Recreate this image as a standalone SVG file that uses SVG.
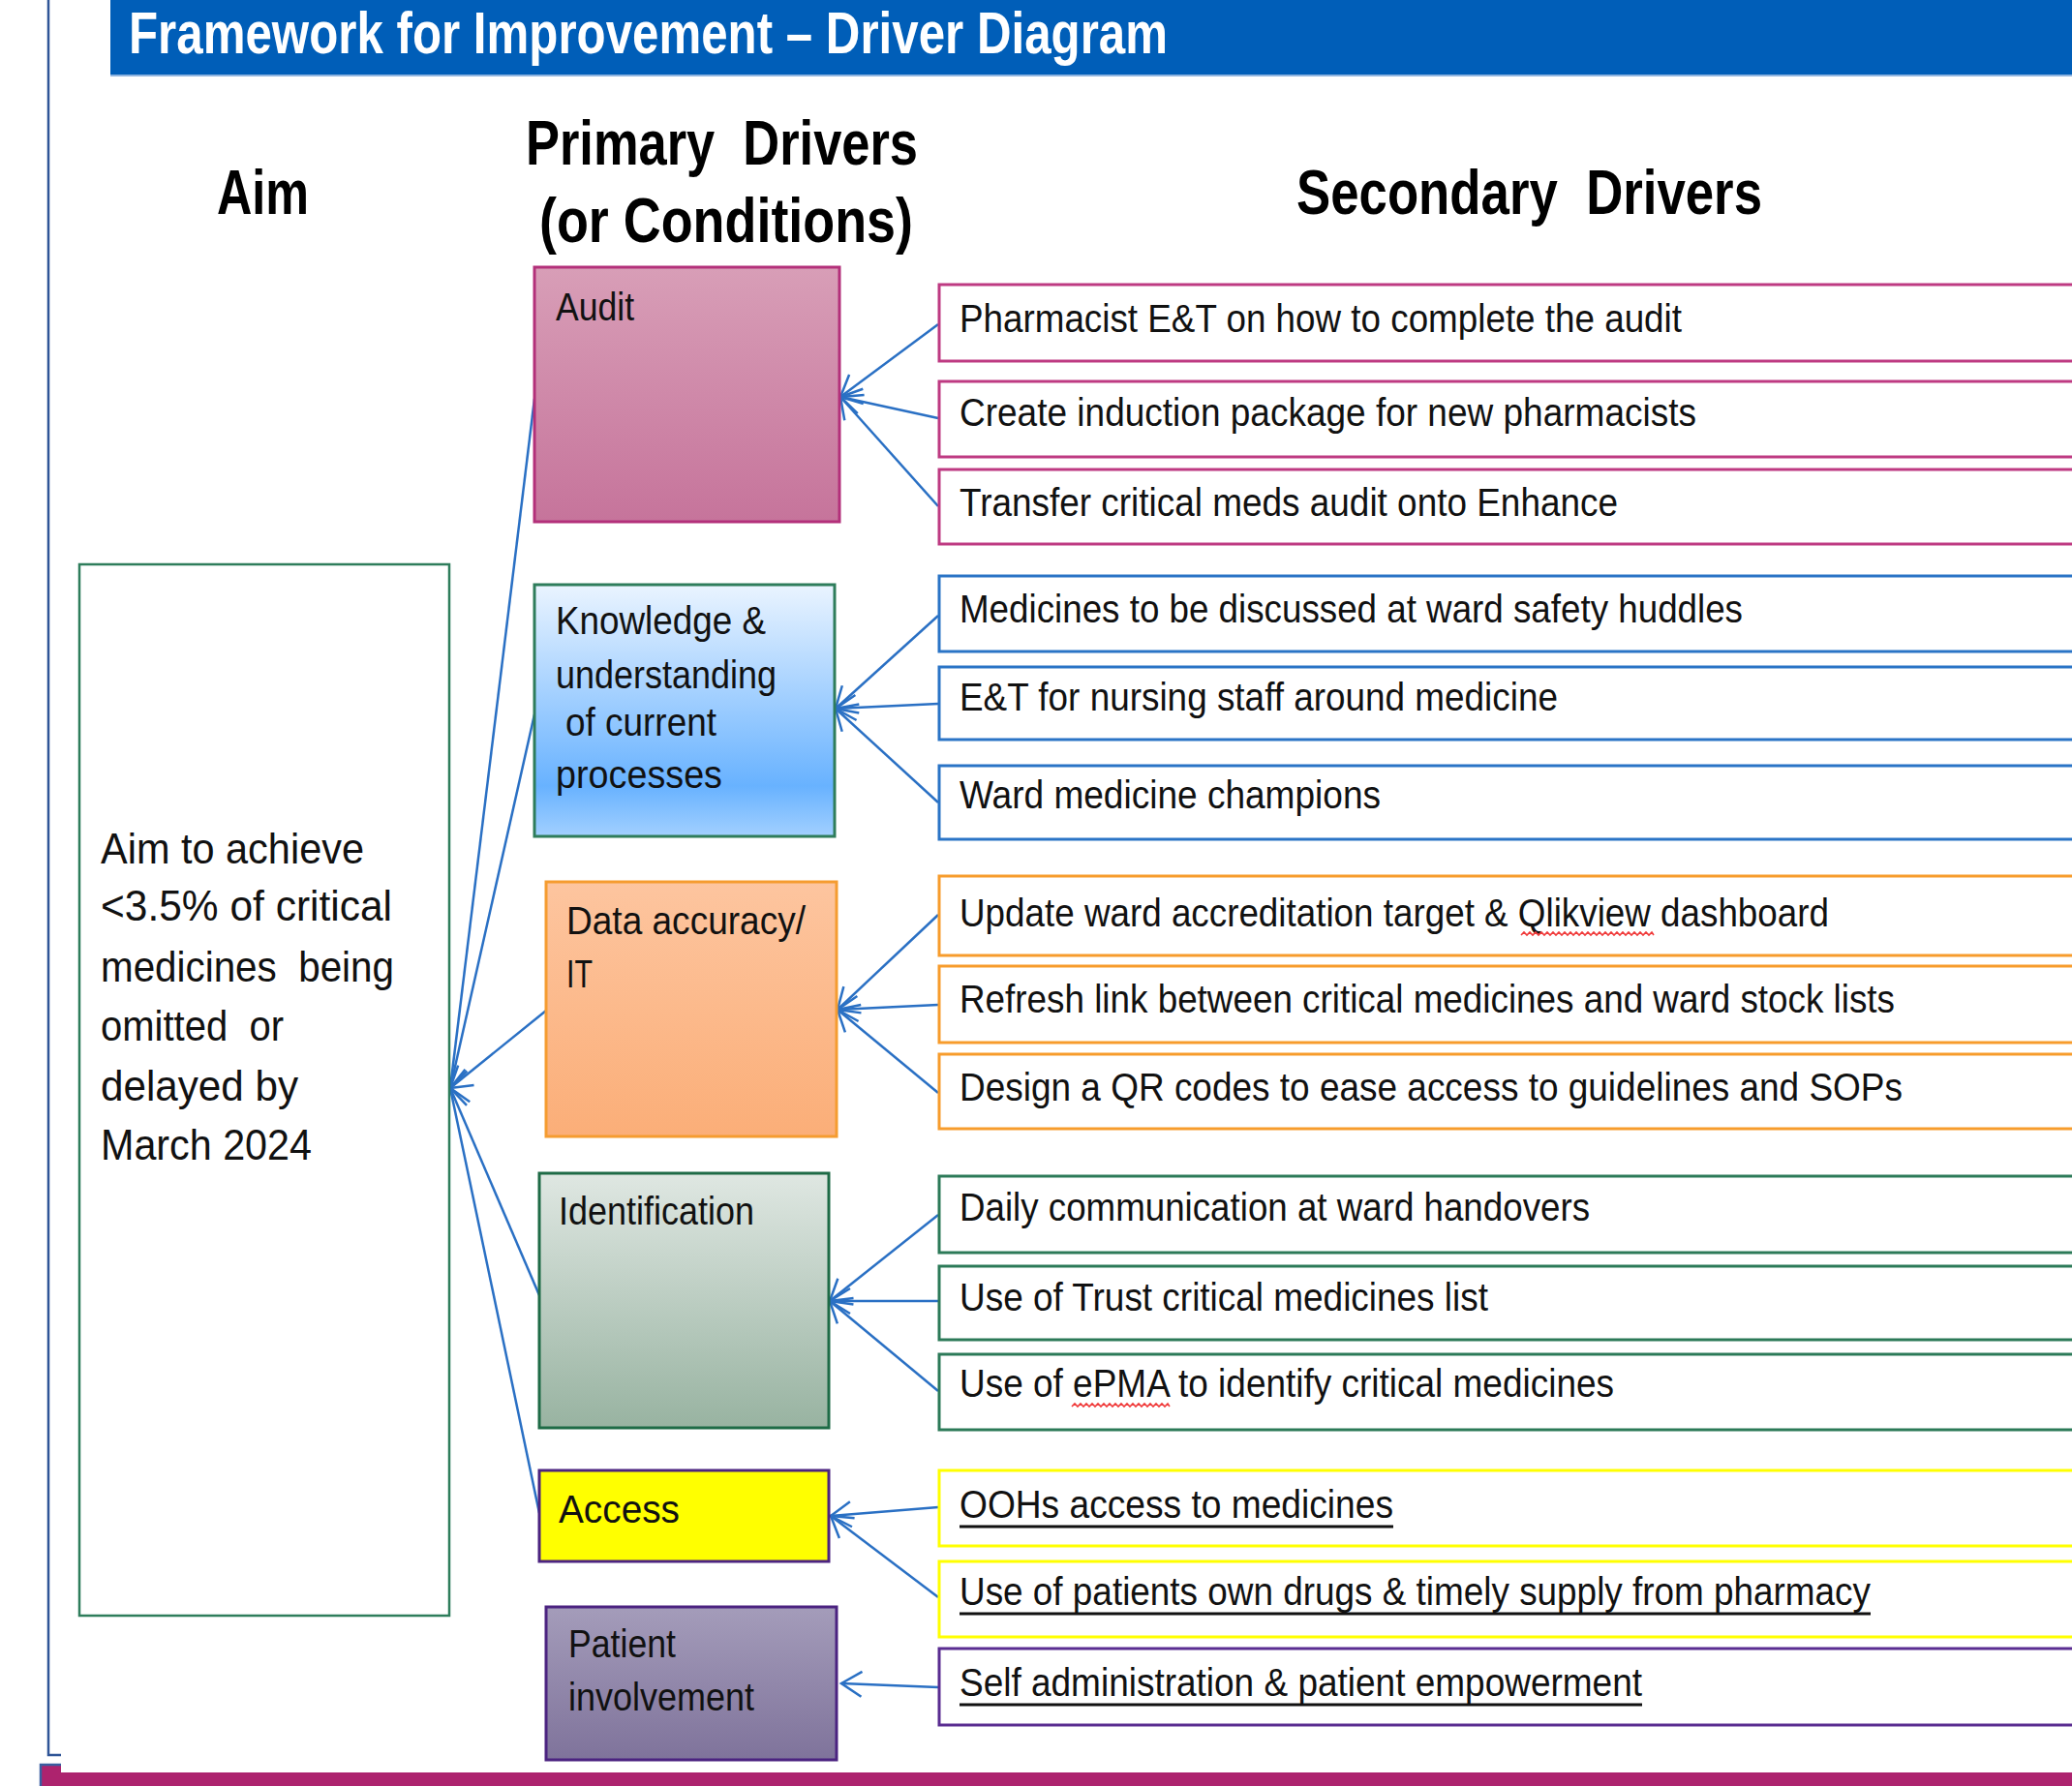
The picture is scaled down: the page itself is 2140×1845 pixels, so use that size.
<svg xmlns="http://www.w3.org/2000/svg" width="2140" height="1845" viewBox="0 0 2140 1845">
<defs>
<style>
text{font-family:"Liberation Sans",Arial,sans-serif;fill:#111;}
.title{font-size:62px;font-weight:bold;fill:#fff;}
.head{font-size:64px;font-weight:bold;fill:#000;white-space:pre;}
.pt{font-size:41px;}
.at{font-size:44px;white-space:pre;}
.st{font-size:41px;}
.conn{stroke:#2A70C4;stroke-width:2.5;fill:none;marker-end:url(#arr);}
.sec{fill:#fff;stroke-width:3;}
.ul{stroke:#111;stroke-width:3;}
.sq{stroke:#F03A3A;stroke-width:1.6;fill:none;}
</style>
<marker id="arr" markerUnits="userSpaceOnUse" viewBox="-24 -16 27 32" refX="0" refY="0" markerWidth="27" markerHeight="32" orient="auto">
<path d="M-21,-13 L0,0 L-21,13" fill="none" stroke="#2A70C4" stroke-width="2.5"/>
</marker>
<linearGradient id="gAudit" x1="0" y1="0" x2="0" y2="1"><stop offset="0" stop-color="#D89EB7"/><stop offset="1" stop-color="#C6749B"/></linearGradient>
<linearGradient id="gKnow" x1="0" y1="0" x2="0" y2="1"><stop offset="0" stop-color="#EAF4FF"/><stop offset="0.8" stop-color="#68B2FF"/><stop offset="1" stop-color="#A2D0FF"/></linearGradient>
<linearGradient id="gData" x1="0" y1="0" x2="0" y2="1"><stop offset="0" stop-color="#FDC59F"/><stop offset="1" stop-color="#FBAE78"/></linearGradient>
<linearGradient id="gIdent" x1="0" y1="0" x2="0" y2="1"><stop offset="0" stop-color="#DFE7E2"/><stop offset="1" stop-color="#98B3A1"/></linearGradient>
<linearGradient id="gPat" x1="0" y1="0" x2="0" y2="1"><stop offset="0" stop-color="#A49CBA"/><stop offset="1" stop-color="#7F739B"/></linearGradient>
</defs>
<rect x="0" y="0" width="2140" height="1845" fill="#fff"/>

<g id="frame">
<path d="M50,0 V1813 H63" fill="none" stroke="#2F5597" stroke-width="2.5"/>
<rect x="41" y="1831" width="2099" height="14" fill="#AD236E"/>
<rect x="42" y="1823" width="21" height="22" fill="#AD236E"/>
<path d="M42,1845 V1823 H63" fill="none" stroke="#3A5DA0" stroke-width="2.5"/>
</g>

<g id="header">
<rect x="114" y="0" width="2026" height="78" fill="#005EB8"/>
<line x1="114" y1="78" x2="2140" y2="78" stroke="#8FB4E0" stroke-width="2"/>
<text class="title" x="133" y="55" textLength="1073" lengthAdjust="spacingAndGlyphs">Framework for Improvement – Driver Diagram</text>
</g>

<g id="headings">
<text class="head" x="224" y="221" textLength="95" lengthAdjust="spacingAndGlyphs">Aim</text>
<text class="head" x="543" y="170" textLength="405" lengthAdjust="spacingAndGlyphs" xml:space="preserve">Primary  Drivers</text>
<text class="head" x="557" y="250" textLength="386" lengthAdjust="spacingAndGlyphs">(or Conditions)</text>
<text class="head" x="1339" y="221" textLength="481" lengthAdjust="spacingAndGlyphs" xml:space="preserve">Secondary  Drivers</text>
</g>

<g id="connectors">
<line class="conn" x1="552" y1="412" x2="465" y2="1124"/>
<line class="conn" x1="552" y1="738" x2="465" y2="1124"/>
<line class="conn" x1="564" y1="1044" x2="465" y2="1124"/>
<line class="conn" x1="557" y1="1338" x2="465" y2="1124"/>
<line class="conn" x1="557" y1="1563" x2="465" y2="1124"/>

<line class="conn" x1="969" y1="335" x2="868" y2="410"/>
<line class="conn" x1="969" y1="432" x2="868" y2="410"/>
<line class="conn" x1="969" y1="523" x2="868" y2="410"/>

<line class="conn" x1="969" y1="636" x2="863" y2="732"/>
<line class="conn" x1="969" y1="727" x2="863" y2="732"/>
<line class="conn" x1="969" y1="829" x2="863" y2="732"/>

<line class="conn" x1="969" y1="945" x2="865" y2="1043"/>
<line class="conn" x1="969" y1="1038" x2="865" y2="1043"/>
<line class="conn" x1="969" y1="1129" x2="865" y2="1043"/>

<line class="conn" x1="969" y1="1255" x2="857" y2="1344"/>
<line class="conn" x1="969" y1="1344" x2="857" y2="1344"/>
<line class="conn" x1="969" y1="1437" x2="857" y2="1344"/>

<line class="conn" x1="969" y1="1557" x2="858" y2="1566"/>
<line class="conn" x1="969" y1="1650" x2="858" y2="1566"/>

<line class="conn" x1="969" y1="1743" x2="869" y2="1739"/>
</g>

<g id="aim">
<rect x="82" y="583" width="382" height="1086" fill="#fff" stroke="#2E7D5B" stroke-width="2.5"/>
<text class="at" x="104" y="892" textLength="272" lengthAdjust="spacingAndGlyphs">Aim to achieve</text>
<text class="at" x="104" y="951" textLength="301" lengthAdjust="spacingAndGlyphs">&lt;3.5% of critical</text>
<text class="at" x="104" y="1014" textLength="303" lengthAdjust="spacingAndGlyphs" xml:space="preserve">medicines  being</text>
<text class="at" x="104" y="1075" textLength="189" lengthAdjust="spacingAndGlyphs" xml:space="preserve">omitted  or</text>
<text class="at" x="104" y="1137" textLength="204" lengthAdjust="spacingAndGlyphs">delayed by</text>
<text class="at" x="104" y="1198" textLength="218" lengthAdjust="spacingAndGlyphs">March 2024</text>
</g>

<g id="p-audit">
<rect x="552" y="276" width="315" height="263" fill="url(#gAudit)" stroke="#B3307A" stroke-width="3"/>
<text class="pt" x="574" y="331" textLength="81" lengthAdjust="spacingAndGlyphs">Audit</text>
</g>
<g id="p-knowledge">
<rect x="552" y="604" width="310" height="260" fill="url(#gKnow)" stroke="#2E7D5B" stroke-width="3"/>
<text class="pt" x="574" y="655" textLength="217" lengthAdjust="spacingAndGlyphs">Knowledge &amp;</text>
<text class="pt" x="574" y="711" textLength="228" lengthAdjust="spacingAndGlyphs">understanding</text>
<text class="pt" x="584" y="760" textLength="156" lengthAdjust="spacingAndGlyphs">of current</text>
<text class="pt" x="574" y="814" textLength="172" lengthAdjust="spacingAndGlyphs">processes</text>
</g>
<g id="p-data">
<rect x="564" y="911" width="300" height="263" fill="url(#gData)" stroke="#F59C30" stroke-width="3"/>
<text class="pt" x="585" y="965" textLength="247" lengthAdjust="spacingAndGlyphs">Data accuracy/</text>
<text class="pt" x="585" y="1020" textLength="27" lengthAdjust="spacingAndGlyphs">IT</text>
</g>
<g id="p-identification">
<rect x="557" y="1212" width="299" height="263" fill="url(#gIdent)" stroke="#1E6B46" stroke-width="3"/>
<text class="pt" x="577" y="1265" textLength="202" lengthAdjust="spacingAndGlyphs">Identification</text>
</g>
<g id="p-access">
<rect x="557" y="1519" width="299" height="94" fill="#FFFF00" stroke="#4B2380" stroke-width="3"/>
<text class="pt" x="577" y="1573" textLength="125" lengthAdjust="spacingAndGlyphs">Access</text>
</g>
<g id="p-patient">
<rect x="564" y="1660" width="300" height="158" fill="url(#gPat)" stroke="#4B2380" stroke-width="3"/>
<text class="pt" x="587" y="1712" textLength="111" lengthAdjust="spacingAndGlyphs">Patient</text>
<text class="pt" x="587" y="1767" textLength="192" lengthAdjust="spacingAndGlyphs">involvement</text>
</g>

<g id="s1"><rect class="sec" x="970" y="294" width="1200" height="79" stroke="#BE3A82"/><text class="st" x="991" y="343" textLength="746" lengthAdjust="spacingAndGlyphs">Pharmacist E&amp;T on how to complete the audit</text></g>
<g id="s2"><rect class="sec" x="970" y="394" width="1200" height="78" stroke="#BE3A82"/><text class="st" x="991" y="440" textLength="761" lengthAdjust="spacingAndGlyphs">Create induction package for new pharmacists</text></g>
<g id="s3"><rect class="sec" x="970" y="485" width="1200" height="77" stroke="#BE3A82"/><text class="st" x="991" y="533" textLength="680" lengthAdjust="spacingAndGlyphs">Transfer critical meds audit onto Enhance</text></g>

<g id="s4"><rect class="sec" x="970" y="595" width="1200" height="78" stroke="#2A74C6"/><text class="st" x="991" y="643" textLength="809" lengthAdjust="spacingAndGlyphs">Medicines to be discussed at ward safety huddles</text></g>
<g id="s5"><rect class="sec" x="970" y="689" width="1200" height="75" stroke="#2A74C6"/><text class="st" x="991" y="734" textLength="618" lengthAdjust="spacingAndGlyphs">E&amp;T for nursing staff around medicine</text></g>
<g id="s6"><rect class="sec" x="970" y="791" width="1200" height="76" stroke="#2A74C6"/><text class="st" x="991" y="835" textLength="435" lengthAdjust="spacingAndGlyphs">Ward medicine champions</text></g>

<g id="s7"><rect class="sec" x="970" y="905" width="1200" height="82" stroke="#F79C2C"/><text class="st" x="991" y="957" textLength="898" lengthAdjust="spacingAndGlyphs">Update ward accreditation target &amp; Qlikview dashboard</text></g>
<g id="s8"><rect class="sec" x="970" y="998" width="1200" height="79" stroke="#F79C2C"/><text class="st" x="991" y="1046" textLength="966" lengthAdjust="spacingAndGlyphs">Refresh link between critical medicines and ward stock lists</text></g>
<g id="s9"><rect class="sec" x="970" y="1089" width="1200" height="77" stroke="#F79C2C"/><text class="st" x="991" y="1137" textLength="974" lengthAdjust="spacingAndGlyphs">Design a QR codes to ease access to guidelines and SOPs</text></g>

<g id="s10"><rect class="sec" x="970" y="1215" width="1200" height="79" stroke="#2C7A58"/><text class="st" x="991" y="1261" textLength="651" lengthAdjust="spacingAndGlyphs">Daily communication at ward handovers</text></g>
<g id="s11"><rect class="sec" x="970" y="1308" width="1200" height="76" stroke="#2C7A58"/><text class="st" x="991" y="1354" textLength="546" lengthAdjust="spacingAndGlyphs">Use of Trust critical medicines list</text></g>
<g id="s12"><rect class="sec" x="970" y="1399" width="1200" height="78" stroke="#2C7A58"/><text class="st" x="991" y="1443" textLength="676" lengthAdjust="spacingAndGlyphs">Use of ePMA to identify critical medicines</text></g>

<g id="s13"><rect class="sec" x="970" y="1519" width="1200" height="78" stroke="#FFFF00"/><text class="st" x="991" y="1568" textLength="448" lengthAdjust="spacingAndGlyphs">OOHs access to medicines</text><line class="ul" x1="991" y1="1577" x2="1439" y2="1577"/></g>
<g id="s14"><rect class="sec" x="970" y="1613" width="1200" height="78" stroke="#FFFF00"/><text class="st" x="991" y="1658" textLength="941" lengthAdjust="spacingAndGlyphs">Use of patients own drugs &amp; timely supply from pharmacy</text><line class="ul" x1="991" y1="1667" x2="1932" y2="1667"/></g>
<g id="s15"><rect class="sec" x="970" y="1703" width="1200" height="79" stroke="#5A2D91"/><text class="st" x="991" y="1752" textLength="705" lengthAdjust="spacingAndGlyphs">Self administration &amp; patient empowerment</text><line class="ul" x1="991" y1="1761" x2="1696" y2="1761"/></g>

<g id="spellcheck">
<polyline class="sq" points="1571,966 1574,963 1577,966 1580,963 1583,966 1586,963 1589,966 1592,963 1595,966 1598,963 1601,966 1604,963 1607,966 1610,963 1613,966 1616,963 1619,966 1622,963 1625,966 1628,963 1631,966 1634,963 1637,966 1640,963 1643,966 1646,963 1649,966 1652,963 1655,966 1658,963 1661,966 1664,963 1667,966 1670,963 1673,966 1676,963 1679,966 1682,963 1685,966 1688,963 1691,966 1694,963 1697,966 1700,963 1703,966 1706,963 1708,966"/>
<polyline class="sq" points="1107,1453 1110,1450 1113,1453 1116,1450 1119,1453 1122,1450 1125,1453 1128,1450 1131,1453 1134,1450 1137,1453 1140,1450 1143,1453 1146,1450 1149,1453 1152,1450 1155,1453 1158,1450 1161,1453 1164,1450 1167,1453 1170,1450 1173,1453 1176,1450 1179,1453 1182,1450 1185,1453 1188,1450 1191,1453 1194,1450 1197,1453 1200,1450 1203,1453 1206,1450 1208,1453"/>
</g>
</svg>
